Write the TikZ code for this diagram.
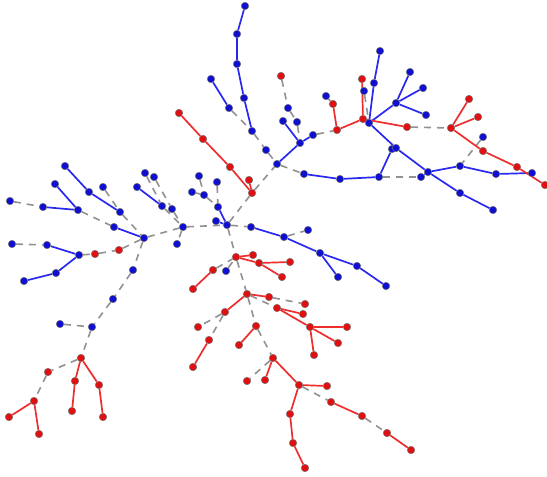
\documentclass[tikz,border=0pt]{standalone}
\usepackage{tikz}
\usetikzlibrary{backgrounds}
\definecolor{nodeblue}{RGB}{15,15,210}
\definecolor{lineblue}{RGB}{40,40,240}
\definecolor{nodered}{RGB}{225,15,15}
\definecolor{linered}{RGB}{238,45,45}
\definecolor{edgegray}{RGB}{145,145,145}
\begin{document}
\begin{tikzpicture}[x=1pt, y=-1pt, every node/.style = {shape=circle, draw=black!55, line width=0.5pt, inner sep=0pt, minimum size=7.5pt}]
			\tikzset{ bnode/.style = { fill=nodeblue } }
			\tikzset{ rnode/.style = { fill=nodered } }
			\tikzset{ bline/.style = { draw=lineblue, line width=1.7pt } }
			\tikzset{ rline/.style = { draw=linered, line width=1.7pt } }
			\tikzset{ gline/.style = { draw=edgegray, line width=1.6pt, dash pattern=on 7pt off 6pt } }

			\useasboundingbox (0,0) rectangle (547,477);

			% blue vertices
			\foreach \n/\x/\y in {b1/65/166, b2/55/184, b3/89/192, b4/103/187, b5/10/201, b6/43/207, b7/78/210,
				b8/120/212, b9/137/187, b10/145/173, b11/154/177, b12/162/206, b13/172/209, b14/199/176,
				b15/217/182, b16/192/192, b17/204/195, b18/218/207, b19/216/221, b20/114/227, b21/144/238,
				b22/183/227, b23/177/244, b24/227/225, b25/12/244, b26/47/245, b27/79/255, b28/56/273,
				b29/24/281, b30/133/270, b31/113/299, b32/60/324, b33/92/327, b34/226/271, b35/251/227,
				b36/284/237, b37/308/230, b38/320/253, b39/357/266, b40/386/286, b41/338/277, b42/245/6,
				b43/237/34, b44/237/64, b45/244/98, b46/252/131, b47/266/150, b48/277/164, b49/211/79,
				b50/229/108, b51/288/108, b52/283/121, b53/297/122, b54/300/143, b55/313/135, b56/304/174,
				b57/340/179, b58/326/96, b59/380/51, b60/374/83, b61/364/91, b62/369/123, b63/396/103,
				b64/410/72, b65/423/88, b66/426/115, b67/483/137, b68/392/149, b69/396/148, b70/428/172,
				b71/421/177, b72/379/177, b73/460/166, b74/496/174, b75/532/173, b76/460/193, b77/493/210}
				\node [bnode] (\n) at (\x,\y) {};

			% red vertices
			\foreach \n/\x/\y in {r1/179/113, r2/203/139, r3/230/167, r4/249/180, r5/252/193, r6/281/76,
				r7/333/104, r8/337/130, r9/362/79, r10/363/119, r11/407/127, r12/451/128, r13/469/99,
				r14/478/117, r15/483/151, r16/517/167, r17/545/185, r18/95/254, r19/119/250, r20/193/289,
				r21/213/270, r22/236/257, r23/253/255, r24/259/263, r25/290/262, r26/282/277, r27/247/294,
				r28/269/297, r29/305/304, r30/277/308, r31/303/314, r32/310/327, r33/347/327, r34/338/343,
				r35/314/355, r36/225/312, r37/198/327, r38/209/340, r39/193/367, r40/256/326, r41/239/345,
				r42/273/358, r43/247/381, r44/265/380, r45/299/385, r46/327/386, r47/331/402, r48/362/416,
				r49/387/433, r50/411/450, r51/290/414, r52/293/443, r53/305/468, r54/81/358, r55/48/372,
				r56/75/381, r57/99/385, r58/34/401, r59/9/417, r60/39/434, r61/72/411, r62/103/417}
				\node [rnode] (\n) at (\x,\y) {};

			\begin{pgfonlayer}{background}
				% dashed links
				\foreach \a/\b in {b5/b6, b7/b20, b4/b8, b8/b21, b25/b26, b27/r18, r18/r19, r19/b21,
					b21/b22, b22/b23, b21/b30, b30/b31, b31/b33, b32/b33, b10/b12, b11/b13, b12/b22,
					b13/b22, b22/b24, b14/b17, b16/b17, b17/b18, b15/b18, b24/b35, b36/b37, b24/r22,
					r21/r22, b34/r22, r22/r27, r27/r30, r28/r29, r36/r37, r36/r38, r27/r40, r40/r42,
					r42/r43, r45/r47, r48/r49, b33/r54, r54/r55, r55/r58, b24/r5, r5/b48, b46/b47,
					b47/b48, b50/b46, r6/b51, b51/b53, b53/b54, b55/r8, b48/b56, b58/r7, b61/b62,
					r11/r12, b67/b73, b72/b71}
					\draw [gline] (\a) -- (\b);

				% blue links
				\foreach \a/\b in {b1/b3, b3/b8, b2/b7, b6/b7, b20/b21, b26/b27, b29/b28, b28/b27,
					b9/b12, b18/b24, b19/b24, b35/b36, b36/b38, b38/b39, b39/b40, b38/b41, b42/b43,
					b43/b44, b44/b45, b45/b46, b49/b50, b48/b54, b52/b54, b54/b55, b56/b57, b57/b72,
					b59/b60, b60/b62, b62/b63, b63/b64, b63/b65, b63/b66, b62/b69, b69/b70, b68/b72,
					b71/b70, b70/b73, b73/b74, b74/b75, b70/b76, b76/b77}
					\draw [bline] (\a) -- (\b);

				% red links
				\foreach \a/\b in {r1/r2, r2/r3, r3/r5, r4/r5, r7/r8, r8/r10, r9/r10, r10/r11,
					r12/r13, r12/r14, r12/r15, r15/r16, r16/r17, r22/r23, r22/r24, r24/r25, r24/r26,
					r20/r21, r27/r28, r27/r36, r30/r31, r30/r32, r32/r33, r32/r34, r32/r35, r38/r39,
					r40/r41, r42/r45, r42/r44, r45/r46, r47/r48, r49/r50, r45/r51, r51/r52, r52/r53,
					r58/r59, r58/r60, r54/r56, r56/r61, r54/r57, r57/r62}
					\draw [rline] (\a) -- (\b);
			\end{pgfonlayer}
		\end{tikzpicture}
\end{document}
